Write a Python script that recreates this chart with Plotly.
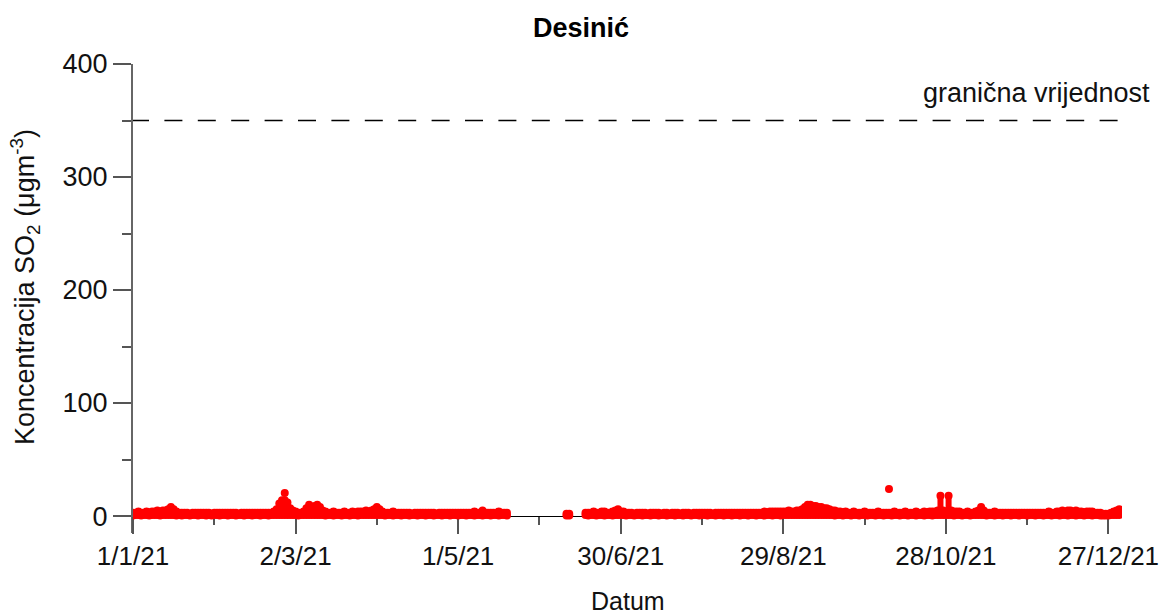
import numpy as np
import pandas as pd
import plotly.graph_objects as go

# ---------------- data ----------------
title_text = "Desinić"
limit_value = 350
limit_label = "granična vrijednost"
x_title = "Datum"
y_title = "Koncentracija SO<sub>2</sub> (μgm<sup>-3</sup>)"

x_tick_dates = ["2021-01-01", "2021-03-02", "2021-05-01", "2021-06-30",
                "2021-08-29", "2021-10-28", "2021-12-27"]
x_tick_text = ["1/1/21", "2/3/21", "1/5/21", "30/6/21", "29/8/21", "28/10/21", "27/12/21"]
x_minor_dates = ["2021-01-31", "2021-04-01", "2021-05-31", "2021-07-30",
                 "2021-09-28", "2021-11-27"]
y_tick_vals = [0, 100, 200, 300, 400]
y_minor_vals = [50, 150, 250, 350]

N = None
# daily maximum of the hourly SO2 readings (µg/m3), one list per month
max_jan = [3, 3, 4, 3, 3, 4, 3, 4, 4, 5, 4, 5, 5, 6, 8, 6, 4, 3, 3, 3, 3, 2, 3, 3, 3, 3, 3, 3, 3, 2, 3]
max_feb = [3, 3, 3, 3, 3, 3, 3, 3, 2, 3, 3, 3, 3, 3, 3, 3, 3, 3, 3, 3, 3, 4, 6, 11, 14, 14, 12, 7]
max_mar = [5, 4, 3, 3, 4, 7, 10, 8, 9, 10, 8, 5, 4, 3, 3, 4, 3, 3, 3, 4, 3, 3, 4, 3, 4, 4, 4, 5, 4, 5, 6]
max_apr = [8, 6, 4, 3, 3, 3, 4, 3, 3, 3, 3, 3, 3, 2, 3, 3, 3, 3, 3, 3, 3, 3, 2, 3, 3, 3, 3, 3, 3, 3]
max_may = [3, 3, 3, 3, 3, 3, 4, 3, 3, 5, 3, 3, 3, 3, 3, 4, 3, 3, 3, N, N, N, N, N, N, N, N, N, N, N, N]
max_jun = [N, N, N, N, N, N, N, N, N, 2, 2, N, N, N, N, N, 3, 3, 3, 4, 3, 3, 4, 4, 3, 3, 4, 5, 6, 4]
max_jul = [4, 3, 3, 3, 2, 3, 3, 3, 3, 2, 3, 3, 3, 3, 2, 3, 3, 2, 3, 3, 3, 2, 3, 3, 3, 2, 3, 3, 3, 3, 3]
max_aug = [3, 3, 2, 3, 3, 3, 3, 3, 3, 3, 3, 3, 3, 3, 3, 3, 3, 3, 3, 3, 3, 4, 3, 4, 4, 4, 4, 4, 4, 4, 5]
max_sep = [4, 4, 5, 5, 6, 8, 10, 10, 9, 9, 8, 8, 7, 7, 6, 5, 5, 4, 4, 3, 4, 3, 3, 4, 3, 3, 3, 4, 3, 3]
max_oct = [3, 3, 4, 3, 3, 3, 3, 3, 4, 3, 3, 3, 4, 3, 3, 3, 4, 3, 3, 4, 3, 4, 4, 4, 5, 18, 5, 4, 18, 5, 4]
max_nov = [4, 4, 3, 3, 4, 3, 3, 4, 5, 8, 5, 3, 3, 3, 4, 3, 3, 3, 3, 3, 3, 3, 3, 3, 3, 3, 3, 3, 3, 3]
max_dec = [3, 3, 3, 3, 4, 3, 3, 4, 4, 5, 4, 5, 5, 4, 5, 4, 4, 3, 4, 4, 4, 3, 3, 3, 2, 2, 2, 3, 4, 5, 6]

# daily minimum of the hourly readings
min_jan = [0.5, 1, 1, 0.5, 1, 1, 0.5, 1, 1, 1, 0.5, 1, 1, 1, 1, 1, 0.5, 1, 0.5, 1, 1, 0.5, 1, 1, 0.5, 1, 1, 0.5, 1, 0.5, 1]
min_feb = [1, 0.5, 1, 1, 0.5, 1, 1, 0.5, 1, 1, 0.5, 1, 1, 0.5, 1, 1, 0.5, 1, 1, 0.5, 1, 1, 1, 1, 1, 1, 1, 1]
min_mar = [1, 1, 0.5, 1, 1, 1, 1, 1, 1, 1, 1, 1, 0.5, 1, 1, 0.5, 1, 1, 0.5, 1, 1, 0.5, 1, 1, 0.5, 1, 1, 1, 1, 1, 1]
min_apr = [1, 1, 1, 0.5, 1, 1, 0.5, 1, 1, 0.5, 1, 1, 0.5, 1, 1, 0.5, 1, 1, 0.5, 1, 1, 0.5, 1, 1, 0.5, 1, 1, 0.5, 1, 1]
min_may = [0.5, 1, 1, 0.5, 1, 1, 0.5, 1, 1, 0.5, 1, 1, 0.5, 1, 1, 0.5, 1, 1, 0.5, N, N, N, N, N, N, N, N, N, N, N, N]
min_jun = [N, N, N, N, N, N, N, N, N, 0.5, 0.5, N, N, N, N, N, 1, 0.5, 1, 1, 0.5, 1, 1, 0.5, 1, 1, 0.5, 1, 1, 1]
min_jul = [1, 0.5, 1, 1, 0.5, 1, 1, 0.5, 1, 1, 0.5, 1, 1, 0.5, 1, 1, 0.5, 1, 1, 0.5, 1, 1, 0.5, 1, 1, 0.5, 1, 1, 0.5, 1, 1]
min_aug = [0.5, 1, 1, 0.5, 1, 1, 0.5, 1, 1, 0.5, 1, 1, 0.5, 1, 1, 0.5, 1, 1, 0.5, 1, 1, 0.5, 1, 1, 0.5, 1, 1, 0.5, 1, 1, 1]
min_sep = [1, 1, 1, 1, 1, 1, 1, 1, 1, 1, 1, 1, 1, 1, 1, 1, 0.5, 1, 1, 0.5, 1, 1, 0.5, 1, 1, 0.5, 1, 1, 0.5, 1]
min_oct = [1, 0.5, 1, 1, 0.5, 1, 1, 0.5, 1, 1, 0.5, 1, 1, 0.5, 1, 1, 0.5, 1, 1, 0.5, 1, 1, 0.5, 1, 1, 1, 1, 1, 1, 1, 0.5]
min_nov = [1, 1, 0.5, 1, 1, 0.5, 1, 1, 1, 1, 1, 0.5, 1, 1, 0.5, 1, 1, 0.5, 1, 1, 0.5, 1, 1, 0.5, 1, 1, 0.5, 1, 1, 0.5]
min_dec = [1, 1, 0.5, 1, 1, 0.5, 1, 1, 0.5, 1, 1, 0.5, 1, 1, 0.5, 1, 1, 0.5, 1, 1, 0.5, 1, 1, 0.5, 0.5, 0.5, 0.5, 1, 1, 1, 1]

# isolated hourly peaks standing above the daily band
peak_dates = ["2021-02-26", "2021-10-07"]
peak_values = [20.5, 24]

# ---------------- assemble ----------------
dates = pd.date_range("2021-01-01", "2021-12-31", freq="D")
daily_max = np.array(max_jan + max_feb + max_mar + max_apr + max_may + max_jun +
                     max_jul + max_aug + max_sep + max_oct + max_nov + max_dec, dtype=float)
daily_min = np.array(min_jan + min_feb + min_mar + min_apr + min_may + min_jun +
                     min_jul + min_aug + min_sep + min_oct + min_nov + min_dec, dtype=float)
assert len(daily_max) == len(dates) == len(daily_min)

RED = "#FF0000"
FONT = "Liberation Sans, Arial, sans-serif"
TXT = "#111111"
MS = 8
DASH = "16px,15.4px" + ",18px,15.4px" * 31

fig = go.Figure()
fig.add_trace(go.Scatter(
    x=dates, y=daily_max, mode="markers",
    marker=dict(color=RED, size=MS, line=dict(width=0)),
    error_y=dict(type="data", symmetric=False, array=np.zeros(len(dates)),
                 arrayminus=daily_max - daily_min, color=RED, thickness=6, width=0),
    hoverinfo="skip", showlegend=False))
fig.add_trace(go.Scatter(
    x=dates, y=daily_min, mode="markers",
    marker=dict(color=RED, size=MS, line=dict(width=0)),
    hoverinfo="skip", showlegend=False))
fig.add_trace(go.Scatter(
    x=peak_dates, y=peak_values, mode="markers",
    marker=dict(color=RED, size=MS, line=dict(width=0)),
    hoverinfo="skip", showlegend=False))
fig.add_trace(go.Scatter(
    x=[dates[0], dates[-1]], y=[limit_value, limit_value], mode="lines",
    line=dict(color="black", width=1.5, dash=DASH),
    hoverinfo="skip", showlegend=False))

y_lo, y_hi = -15, 400
fig.update_layout(
    width=1162, height=615,
    margin=dict(l=133, r=40, t=64, b=82, autoexpand=False),
    paper_bgcolor="white", plot_bgcolor="white",
    font=dict(family=FONT, color=TXT, size=26),
    title=dict(text="<b>" + title_text + "</b>", x=0.5, xref="container", xanchor="center",
               y=1 - 28 / 615, yanchor="middle", font=dict(size=27, family=FONT, color="black")),
    xaxis=dict(
        type="date", range=["2021-01-01", "2022-01-01"], automargin=False,
        tickmode="array", tickvals=x_tick_dates, ticktext=x_tick_text,
        ticks="outside", ticklen=17, tickwidth=1.5, tickcolor="#555555",
        showline=True, linecolor="black", linewidth=1.3,
        showgrid=False, zeroline=False,
        anchor="free", position=(0 - y_lo) / (y_hi - y_lo),
        layer="below traces",
        tickfont=dict(size=26, family=FONT, color=TXT),
        minor=dict(tickmode="array", tickvals=x_minor_dates, ticks="outside",
                   ticklen=8, tickwidth=1.5, tickcolor="#555555", showgrid=False),
    ),
    yaxis=dict(
        range=[y_lo, y_hi], automargin=False,
        tickmode="array", tickvals=y_tick_vals,
        ticks="outside", ticklen=18, tickwidth=1.5, tickcolor="#555555",
        showline=True, linecolor="#666666", linewidth=2,
        showgrid=False, zeroline=False,
        layer="below traces",
        tickfont=dict(size=27, family=FONT, color=TXT),
        minor=dict(tickmode="array", tickvals=y_minor_vals, ticks="outside",
                   ticklen=9, tickwidth=1.5, tickcolor="#555555", showgrid=False),
    ),
    annotations=[
        dict(text=y_title, textangle=-90, xref="paper", yref="paper",
             x=(25 - 133) / 989, y=(533 - 287) / 469, xanchor="center", yanchor="middle",
             showarrow=False, font=dict(size=27, family=FONT, color=TXT)),
        dict(text=x_title, xref="paper", yref="paper",
             x=0.5, y=(533 - 601) / 469, xanchor="center", yanchor="middle",
             showarrow=False, font=dict(size=25, family=FONT, color=TXT)),
        dict(text=limit_label, xref="paper", yref="paper",
             x=(1152 - 133) / 989, y=(533 - 93) / 469, xanchor="right", yanchor="middle",
             showarrow=False, font=dict(size=27, family=FONT, color=TXT)),
    ],
)

fig.write_html("out.html", config={"displayModeBar": False},
               post_script="document.body.style.margin='0px';document.body.style.overflow='hidden';")
